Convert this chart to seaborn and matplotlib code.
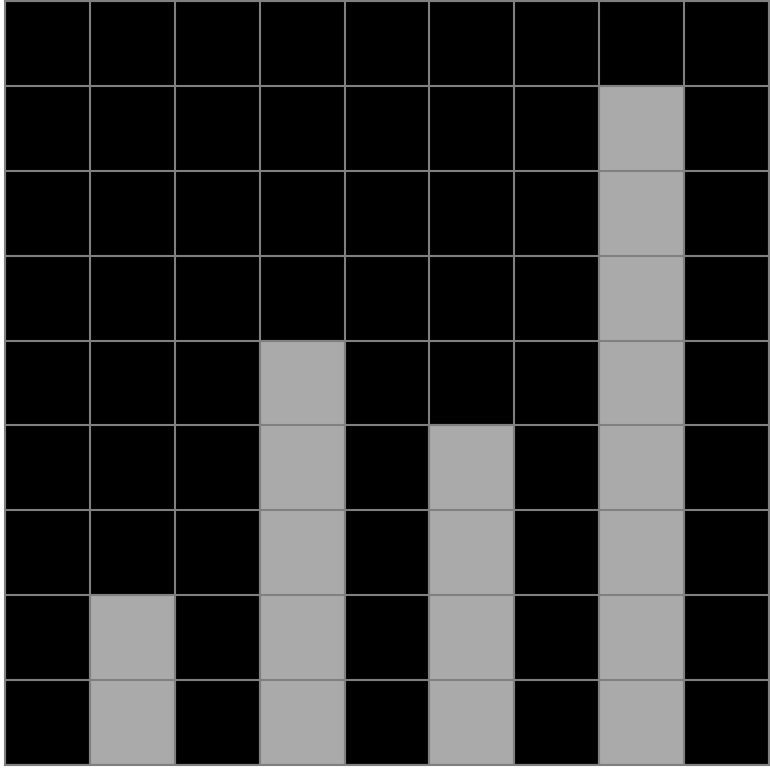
import matplotlib
matplotlib.use("Agg")
import matplotlib.pyplot as plt
import seaborn as sns
import pandas as pd

columns = list(range(9))
heights = [0, 2, 0, 5, 0, 4, 0, 8, 0]

df = pd.DataFrame({"col": columns, "height": heights})

fig = plt.figure(figsize=(7.7, 7.7), dpi=100)
ax = fig.add_axes([5 / 770, 5 / 770, 764 / 770, 764 / 770])
ax.set_facecolor("black")

sns.barplot(data=df, x="col", y="height", color="#aaaaaa", width=1.0,
            saturation=1, edgecolor="#808080", linewidth=1.5, ax=ax)

ax.set_xlim(-0.5, 8.5)
ax.set_ylim(0, 9)
ax.set_xticks([i - 0.5 for i in range(10)])
ax.set_yticks(range(10))
ax.grid(True, color="#808080", linewidth=1.5)
ax.set_axisbelow(False)
ax.tick_params(length=0, labelbottom=False, labelleft=False)
ax.set_xlabel("")
ax.set_ylabel("")
for s in ax.spines.values():
    s.set_color("#808080")
    s.set_linewidth(1.5)

fig.savefig("out.png", dpi=100, facecolor="white")
